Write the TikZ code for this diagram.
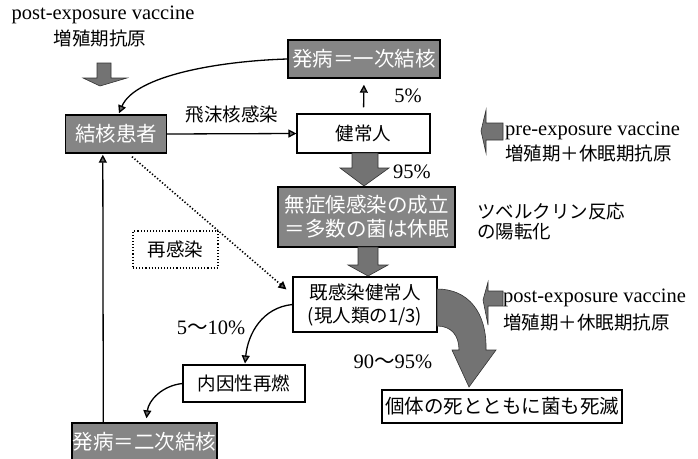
\documentclass[tikz,border=0pt]{standalone}
\usepackage{fontspec}
\setmainfont{Liberation Serif}
\newfontfamily\jp{Noto Sans CJK JP}
\usetikzlibrary{arrows.meta,calc}
\begin{document}
\begin{tikzpicture}[x=1pt,y=-1pt,
  font=\fontsize{20.5}{24}\selectfont,
  wbox/.style={draw,line width=1.1pt,fill=white,inner sep=0pt,font=\jp\fontsize{18.5}{23}\selectfont,align=center},
  dbox/.style={draw,line width=1.4pt,fill=black!48,text=white,inner sep=0pt,font=\jp\fontsize{20.5}{24}\selectfont,align=center},
  conn/.style={line width=1.3pt,-{Triangle[length=8pt,width=8pt,fill=black!60]}},
  blk/.style={fill=black!55,draw=black!80,line width=0.6pt},
  lbl/.style={inner sep=0pt},
  jl/.style={inner sep=0pt,font=\jp\fontsize{18.5}{23}\selectfont}
]
\useasboundingbox (0,0) rectangle (698,458);

% boxes
\node[dbox,minimum width=101pt,minimum height=38pt] (kanja) at (116,134) {結核患者};
\node[dbox,minimum width=152pt,minimum height=38pt] (hatsu1) at (364,59) {発病＝一次結核};
\node[wbox,minimum width=133pt,minimum height=39pt] (kenjo) at (363.5,133.5) {健常人};
\node[dbox,minimum width=177pt,minimum height=60pt] (mushou) at (366.5,217) {無症候感染の成立\\＝多数の菌は休眠};
\node[wbox,minimum width=144pt,minimum height=55pt] (kikan) at (365,304.5) {既感染健常人\\(現人類の1/3)};
\node[wbox,minimum width=122pt,minimum height=37pt] (naiin) at (244,383.5) {内因性再燃};
\node[wbox,minimum width=240pt,minimum height=33pt,font=\jp\fontsize{19.5}{23}\selectfont] (kotai) at (502,406.5) {個体の死とともに菌も死滅};
\node[dbox,minimum width=145pt,minimum height=38pt] (hatsu2) at (144.5,442) {発病＝二次結核};
\node[wbox,dotted,line width=1.4pt,minimum width=85pt,minimum height=37pt] (saikan) at (175.5,249.5) {再感染};

% labels
\node[jl] (hi) at (232,115) {飛沫核感染};
\node[lbl] (p5) at (408,96) {5\%};
\node[lbl] (p95) at (412,172) {95\%};
\node[lbl] (p510) at (211,328) {5{\jp ～}10\%};
\node[lbl] (p9095) at (393,362) {90{\jp ～}95\%};
\node[jl,anchor=west] (tub) at (477,211) {ツベルクリン反応};
\node[jl,anchor=west] (yo) at (477,231) {の陽転化};
\node[lbl] (pv1) at (103,15) {post-exposure vaccine};
\node[jl] (pv1j) at (100,38) {増殖期抗原};
\node[lbl,anchor=west] (prev) at (505,131) {pre-exposure vaccine};
\node[jl,anchor=west] (prevj) at (505,153) {増殖期＋休眠期抗原};
\node[lbl,anchor=west] (pov) at (503,298) {post-exposure vaccine};
\node[jl,anchor=west] (povj) at (503,322) {増殖期＋休眠期抗原};

% block arrows
\draw[blk] (97,63) -- (111,63) -- (111,78) -- (127,78) -- (100,86) -- (83,78) -- (97,78) -- cycle;
\draw[blk] (352,153) -- (378,153) -- (378,168) -- (389,168) -- (364,186) -- (340,168) -- (352,168) -- cycle;
\draw[blk] (358,247) -- (378,247) -- (378,265) -- (388,265) -- (368,276) -- (348,265) -- (358,265) -- cycle;
\draw[blk] (437,289) .. controls (468,289) and (487,312) .. (486,350) -- (496,350) -- (469,387) -- (452,350) -- (459,350) .. controls (459,335) and (451,326) .. (437,326) -- cycle;
\draw[blk] (503,123) -- (486,123) -- (486,110) -- (481,131) -- (486,153) -- (486,140) -- (503,140) -- cycle;
\draw[blk] (503,291) -- (488,291) -- (488,282) -- (483,300) -- (488,325) -- (488,306) -- (503,306) -- cycle;

% connectors
\draw[conn] (hatsu1.west) .. controls +(-67,2) and +(16,-38) .. ($(kanja.north)+(3,-1)$);
\draw[conn] (kanja.east) -- (kenjo.west);
\draw[conn,shorten <=6pt,shorten >=6pt] (kenjo.north) -- (hatsu1.south);
\draw[conn,shorten >=1pt] ($(hatsu2.north west)+(32,0)$) -- ($(kanja.south west)+(38,0)$);
\draw[conn,dotted,line width=1.6pt] ($(kanja.south)+(16,3)$) -- ($(kikan.north west)+(-6,13)$);
\draw[conn] (kikan.west) .. controls +(-30,3) and +(3,-30) .. ($(naiin.north)+(1,-1)$);
\draw[conn] (naiin.west) .. controls +(-20,2) and +(2,-18) .. ($(hatsu2.north)+(2,-4)$);
\end{tikzpicture}
\end{document}
